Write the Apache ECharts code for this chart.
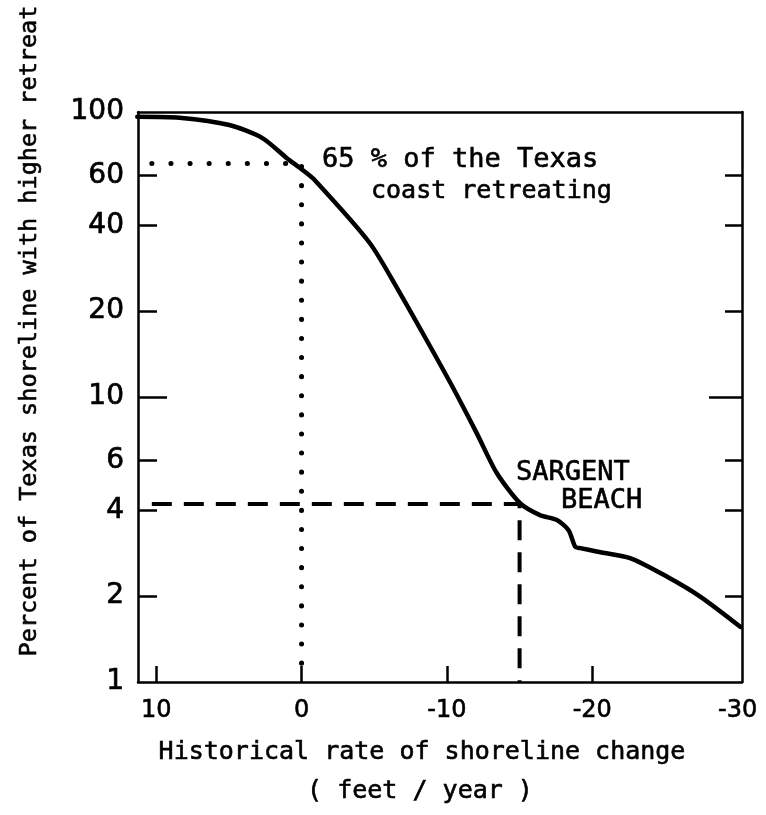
<!DOCTYPE html>
<html><head><meta charset="utf-8">
<script src="https://cdn.jsdelivr.net/npm/echarts@6/dist/echarts.min.js"></script>
<style>html,body{margin:0;padding:0;background:#fff}#c{width:766px;height:815px}</style>
</head><body><div id="c"></div>
<script>
// Historical rate of shoreline change (feet/year), positive = accretion
const rate = [11.3, 8.4, 4.97, 2.69, 1.03, -0.07, -0.9, -4.69, -6.76, -8.6, -10.41, -12.05, -13.43, -15.03, -16.4, -17.57, -18.37, -18.83, -19.17, -20.3, -22.6, -25.15, -27.45, -30.2];
// Percent of Texas shoreline with higher retreat
const percent = [96.3, 95.5, 90, 81, 69, 62.6, 57.7, 34.7, 23.2, 15.85, 10.8, 7.47, 5.41, 4.24, 3.85, 3.70, 3.41, 2.98, 2.95, 2.87, 2.72, 2.34, 1.99, 1.56];
const xTickValues = [10, 0, -10, -20, -30];
const xMinorTicks = [10, 0, -10, -20];
const yLabelValues = [1, 2, 4, 6, 10, 20, 40, 60, 100];
const yTickValues = [2, 4, 6, 20, 40, 60];
const yMajorTick = [10];
// 65% reference (dotted) and Sargent Beach reference (dashed)
const dottedRate = [10.3, 0, 0];
const dottedPct = [66, 66, 1];
const dashedRate = [10.3, -15, -15];
const dashedPct = [4.21, 4.21, 1];

const zip = (a, b) => a.map((v, i) => [v, b[i]]);
const FONT = 'DejaVu Sans';
const MONO = 'DejaVu Sans Mono';
const chart = echarts.init(document.getElementById('c'), null, {renderer: 'canvas'});

const lineSt = () => ({color: '#000', width: 2.5});
const xBase = () => ({
  type: 'value', min: -30.3, max: 11.25, inverse: true,
  splitLine: {show: false}
});
const yBase = () => ({
  type: 'log', logBase: 10, min: 1, max: 100,
  splitLine: {show: false}, minorTick: {show: false}
});
const txt = (text, x, y, size, align) => ({
  type: 'text', x: x, y: y,
  style: {text: text, fontFamily: MONO, fontSize: size, fill: '#000', stroke: '#000', lineWidth: 0.6,
    textAlign: align, textVerticalAlign: 'middle'}
});

chart.setOption({
  backgroundColor: '#fff',
  animation: false,
  grid: {left: 138, right: 24, top: 112, bottom: 133, containLabel: false},
  xAxis: [
    Object.assign(xBase(), {
      position: 'bottom',
      axisLine: {show: true, onZero: false, lineStyle: lineSt()},
      axisTick: {show: true, inside: true, length: 16, customValues: xMinorTicks, lineStyle: lineSt()},
      axisLabel: {show: true, customValues: xTickValues, margin: 17, color: '#000', fontFamily: FONT, fontSize: 24,
        textBorderColor: '#000', textBorderWidth: 0.6,
        formatter: v => (v < 0 ? '-' + Math.abs(v) : String(v))}
    }),
    Object.assign(xBase(), {
      position: 'top',
      axisLine: {show: true, onZero: false, lineStyle: lineSt()},
      axisTick: {show: false}, axisLabel: {show: false}
    })
  ],
  yAxis: [
    Object.assign(yBase(), {
      position: 'left',
      axisLine: {show: true, onZero: false, lineStyle: lineSt()},
      axisTick: {show: true, inside: true, length: 19, customValues: yTickValues, lineStyle: lineSt()},
      axisLabel: {show: true, customValues: yLabelValues, margin: 14, color: '#000', fontFamily: FONT, fontSize: 28,
        textBorderColor: '#000', textBorderWidth: 0.7,
        formatter: v => String(Math.round(v))}
    }),
    Object.assign(yBase(), {
      position: 'right',
      axisLine: {show: true, onZero: false, lineStyle: lineSt()},
      axisTick: {show: true, inside: true, length: 17, customValues: yTickValues, lineStyle: lineSt()},
      axisLabel: {show: false}
    }),
    Object.assign(yBase(), {
      position: 'left',
      axisLine: {show: false, onZero: false},
      axisTick: {show: true, inside: true, length: 29, customValues: yMajorTick, lineStyle: lineSt()},
      axisLabel: {show: false}
    }),
    Object.assign(yBase(), {
      position: 'right',
      axisLine: {show: false, onZero: false},
      axisTick: {show: true, inside: true, length: 33, customValues: yMajorTick, lineStyle: lineSt()},
      axisLabel: {show: false}
    })
  ],
  series: [
    {
      type: 'line', name: 'dotted', data: zip(dottedRate, dottedPct), showSymbol: false, silent: true,
      lineStyle: {color: '#000', width: 5, type: [0.1, 19], cap: 'round'}
    },
    {
      type: 'line', name: 'dashed', data: zip(dashedRate, dashedPct), showSymbol: false, silent: true,
      lineStyle: {color: '#000', width: 4, type: [20, 12], cap: 'butt'}
    },
    {
      type: 'line', name: 'curve', data: zip(rate, percent), showSymbol: false, smooth: 0.25,
      lineStyle: {color: '#000', width: 4.5, cap: 'round', join: 'round'}
    }
  ],
  graphic: [
    Object.assign(txt('Percent of Texas shoreline with higher retreat', 30, 331, 23.5, 'center'), {rotation: Math.PI / 2}),
    txt('65 % of the Texas', 322, 160, 27, 'left'),
    txt('coast retreating', 371, 191, 25, 'left'),
    txt('SARGENT', 516, 473, 27, 'left'),
    txt('BEACH', 561, 501, 27, 'left'),
    txt('Historical rate of shoreline change', 422, 752, 25, 'center'),
    txt('( feet / year )', 420, 791, 25, 'center')
  ]
});
</script></body></html>
